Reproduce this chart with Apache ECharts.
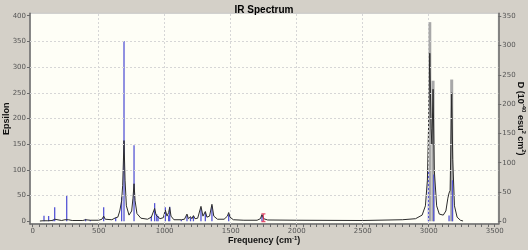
<!DOCTYPE html>
<html><head><meta charset="utf-8">
<script src="https://cdn.jsdelivr.net/npm/echarts@6/dist/echarts.min.js"></script>
<style>html,body{margin:0;padding:0;background:#d4d0c8;}#c{width:528px;height:250px;}</style>
</head><body><div id="c"></div>
<script>
// ---- data ----
const chartTitle = 'IR Spectrum';
const xTickLabels = [0, 500, 1000, 1500, 2000, 2500, 3000, 3500];
const leftTickLabels = [0, 50, 100, 150, 200, 250, 300, 350, 400];
const rightTickLabels = [0, 50, 100, 150, 200, 250, 300, 350];

// broadened spectrum: frequency (cm-1)
const curveFreq = [55, 80, 86, 92, 115, 121, 128, 150, 158, 167, 175, 220, 245, 258, 270, 300, 380, 401, 415, 437, 450, 500, 525, 538, 550, 600, 629, 645, 660, 674, 682, 692, 700, 710, 730, 750, 760, 768, 776, 790, 820, 870, 899, 910, 924, 935, 950, 965, 990, 1005, 1018, 1030, 1038, 1048, 1070, 1126, 1150, 1169, 1180, 1196, 1206, 1218, 1230, 1250, 1275, 1290, 1308, 1320, 1340, 1358, 1372, 1400, 1450, 1475, 1485, 1495, 1520, 1600, 1700, 1725, 1737, 1750, 1780, 2000, 2500, 2800, 2900, 2950, 2975, 2990, 3000, 3008, 3018, 3024, 3033, 3042, 3060, 3080, 3110, 3130, 3145, 3154, 3162, 3168, 3174, 3182, 3195, 3215, 3240, 3260];
// broadened spectrum: epsilon
const curveEps = [0.5, 1, 2, 1, 1, 2, 1, 1.5, 3, 4, 2, 1.5, 3, 6, 3, 1.5, 1.5, 3, 1.5, 2, 1.5, 2, 4, 10, 4, 3, 7, 8, 20, 40, 70, 157, 80, 30, 12, 20, 45, 73, 40, 15, 6, 4, 8, 6, 25, 12, 10, 5, 7, 22, 10, 17, 27, 10, 3, 3, 4, 14, 5, 9, 5, 11, 5, 6, 29, 10, 19, 8, 10, 33, 10, 4, 4, 10, 17, 8, 3, 2, 2, 5, 13, 5, 2.5, 2, 1.5, 3, 5, 12, 30, 80, 200, 327, 180, 150, 257, 100, 30, 14, 12, 20, 45, 55, 60, 150, 250, 120, 30, 8, 2, 0.5];

// blue sticks: frequency and dipole strength D
const stickFreq = [86, 121, 154, 167, 258, 401, 437, 538, 629, 674, 692, 768, 899, 924, 940, 950, 1005, 1030, 1038, 1126, 1169, 1196, 1218, 1275, 1308, 1358, 1485, 1737, 2998, 3038, 3154, 3180];
const stickD = [9.5, 9, 3, 24, 44, 4, 2, 24, 6, 41, 308, 130, 8, 31, 12, 9, 24, 10, 25, 2, 10, 7, 9, 22, 15, 26, 12, 10, 86, 80, 10, 70];
// grey sticks in the C-H stretch region
const greyStickFreq = [3008, 3033, 3174];
const greyStickD = [340, 240, 242];
// selected mode marker
const markerFreq = [1748];
const markerEps = [7];

// ---- chart ----
const xMinor = [];
for (let v = 0; v <= 3500; v += 50) xMinor.push(v);

const gridLines = [];
xTickLabels.slice(1, -1).forEach(v => gridLines.push({ xAxis: v }));
leftTickLabels.slice(1, -1).forEach(v => gridLines.push({ yAxis: v }));

function stickSeries(freqs, vals, color, width) {
  return {
    type: 'custom', xAxisIndex: 0, yAxisIndex: 1, z: 3, silent: true,
    data: freqs.map((f, i) => [f, vals[i]]),
    renderItem: function (params, api) {
      const p0 = api.coord([api.value(0), 0]);
      const p1 = api.coord([api.value(0), api.value(1)]);
      return { type: 'line', shape: { x1: p0[0], y1: p0[1], x2: p1[0], y2: p1[1] },
               style: { stroke: color, lineWidth: width } };
    }
  };
}

function plainLabel(v) { return String(v); }
const labelStyle = { margin: 4, fontFamily: 'DejaVu Sans', fontSize: 7, color: '#555', formatter: plainLabel };
const nameFont = { fontFamily: 'Liberation Sans', fontSize: 9, fontWeight: 'bold', color: '#111',
  rich: { sup: { fontFamily: 'Liberation Sans', fontSize: 6, fontWeight: 'bold', color: '#111', padding: [0, 0, 5, 0] } } };
const axisLineStyle = { color: '#6a6a6a', width: 1.5 };
const tickStyle = { color: '#6a6a6a' };

const chart = echarts.init(document.getElementById('c'), null, { renderer: 'canvas' });
chart.setOption({
  backgroundColor: '#d4d0c8',
  animation: false,
  title: { text: chartTitle, left: 'center', top: 0,
    textStyle: { fontFamily: 'Liberation Sans', fontSize: 10, fontWeight: 'bold', color: '#000' } },
  grid: { left: 30, right: 29.7, top: 13.3, bottom: 26, containLabel: false, outerBoundsMode: 'none',
          show: true, backgroundColor: '#fefef6', borderColor: '#c8c8c8', borderWidth: 1 },
  xAxis: {
    type: 'value', min: -20, max: 3527,
    name: 'Frequency (cm{sup|-1})', nameLocation: 'middle', nameGap: 11, nameMoveOverlap: false,
    nameTextStyle: nameFont,
    axisLine: { show: true, onZero: false, lineStyle: axisLineStyle },
    axisTick: { show: true, customValues: xMinor, length: 3, lineStyle: tickStyle },
    axisLabel: { customValues: xTickLabels, ...labelStyle },
    splitLine: { show: false }
  },
  yAxis: [{
    type: 'value', min: -5.3, max: 404.7, position: 'left',
    name: 'Epsilon', nameLocation: 'middle', nameGap: 19, nameMoveOverlap: false, nameTextStyle: nameFont,
    axisLine: { show: true, onZero: false, lineStyle: axisLineStyle },
    axisTick: { show: true, customValues: leftTickLabels, length: 3, lineStyle: tickStyle },
    axisLabel: { customValues: leftTickLabels, ...labelStyle },
    splitLine: { show: false }
  }, {
    type: 'value', min: -4.65, max: 355.1, position: 'right',
    name: 'D (10{sup|-40} esu{sup|2} cm{sup|2})', nameLocation: 'middle', nameRotate: -90, nameGap: 17,
    nameMoveOverlap: false, nameTextStyle: nameFont,
    axisLine: { show: true, onZero: false, lineStyle: axisLineStyle },
    axisTick: { show: true, customValues: rightTickLabels, length: 3, lineStyle: tickStyle },
    axisLabel: { customValues: rightTickLabels, ...labelStyle },
    splitLine: { show: false }
  }],
  series: [
    { type: 'line', data: [], z: 1, silent: true,
      markLine: { silent: true, symbol: 'none', label: { show: false }, animation: false,
        lineStyle: { color: '#d6d6d6', type: [2, 2], width: 1 }, data: gridLines } },
    stickSeries(greyStickFreq, greyStickD, '#a8a8a8', 3),
    stickSeries(stickFreq, stickD, '#5555d5', 1.3),
    { type: 'line', xAxisIndex: 0, yAxisIndex: 0, z: 4, symbol: 'none', silent: true,
      data: curveFreq.map((f, i) => [f, curveEps[i]]),
      lineStyle: { color: '#2b2b2b', width: 1 } },
    { type: 'scatter', xAxisIndex: 0, yAxisIndex: 0, z: 5, silent: true,
      data: markerFreq.map((f, i) => [f, markerEps[i]]),
      symbol: 'path://M0,0H5V1.5H3.2V8.5H5V10H0V8.5H1.8V1.5H0Z', symbolSize: [4, 9],
      itemStyle: { color: '#e0204a' } }
  ]
});
</script></body></html>
